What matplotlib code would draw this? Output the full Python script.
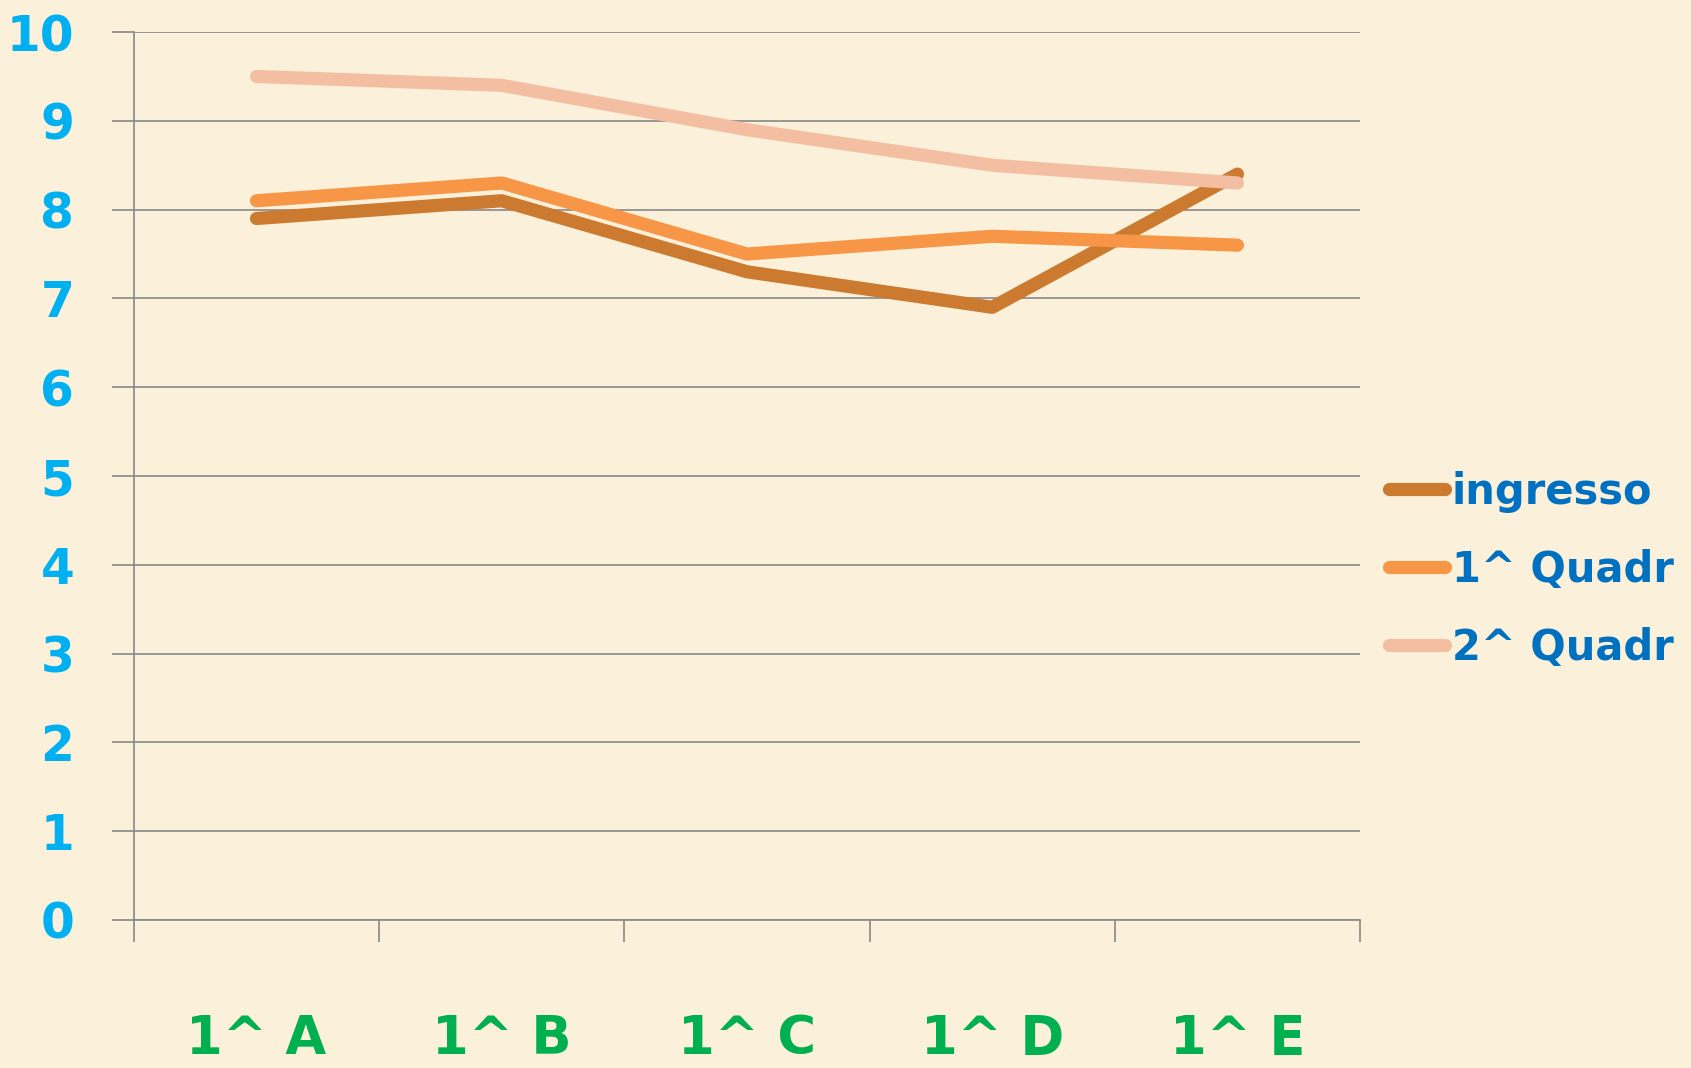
import numpy as np
import matplotlib
matplotlib.use('Agg')
import matplotlib.pyplot as plt

# data
classes = ['1^ A', '1^ B', '1^ C', '1^ D', '1^ E']
ingresso = [7.9, 8.1, 7.3, 6.9, 8.4]
quadr1 = [8.1, 8.3, 7.5, 7.7, 7.6]
quadr2 = [9.5, 9.4, 8.9, 8.5, 8.3]
series_names = ['ingresso', '1^ Quadr', '2^ Quadr']
y_ticks = list(range(0, 11))

colors = ['#CC7A30', '#F79646', '#F4BEA2']
bg = '#FBF0D9'
grid_col = '#888888'

fig = plt.figure(figsize=(16.91, 10.68), dpi=100, facecolor=bg)
ax = fig.add_axes([0.0792, 0.1386, 0.7251, 0.8314])
ax.set_facecolor(bg)

x = np.arange(1, len(classes) + 1)
for vals, name, c in zip([ingresso, quadr1, quadr2], series_names, colors):
    ax.plot(x, vals, color=c, lw=9.5, label=name, solid_capstyle='round',
            solid_joinstyle='round')

ax.set_xlim(0.5, len(classes) + 0.5)
ax.set_ylim(0, 10)

# y axis
ax.set_yticks(y_ticks)
ax.set_yticklabels([str(v) for v in y_ticks], color='#00B0F0',
                   fontsize=35, fontweight='bold', family='DejaVu Sans')
ax.tick_params(axis='y', length=16, width=1.2, color=grid_col, pad=27)
ax.yaxis.grid(True, color=grid_col, lw=1.2)
ax.set_axisbelow(True)

# x axis: ticks at category boundaries, labels at centres
ax.set_xticks(np.arange(0.5, len(classes) + 1, 1.0))
ax.set_xticklabels([])
ax.tick_params(axis='x', which='major', length=16, width=1.2, color=grid_col)
ax.set_xticks(x, minor=True)
ax.set_xticklabels(classes, minor=True, color='#00B050', fontsize=38,
                   fontweight='bold', family='DejaVu Sans')
ax.tick_params(axis='x', which='minor', length=0, pad=67)

for s in ['top', 'right']:
    ax.spines[s].set_visible(False)
for s in ['left', 'bottom']:
    ax.spines[s].set_color(grid_col)
    ax.spines[s].set_linewidth(1.2)

leg = fig.legend(loc='center left', bbox_to_anchor=(0.8215, 0.4665),
                 frameon=False, handlelength=1.35, borderaxespad=0,
                 handletextpad=0.15, labelspacing=0.87, borderpad=0,
                 prop={'size': 30, 'weight': 'bold', 'family': 'DejaVu Sans'})
for t in leg.get_texts():
    t.set_color('#0070C0')

fig.savefig('out.png', dpi=100, facecolor=bg)
